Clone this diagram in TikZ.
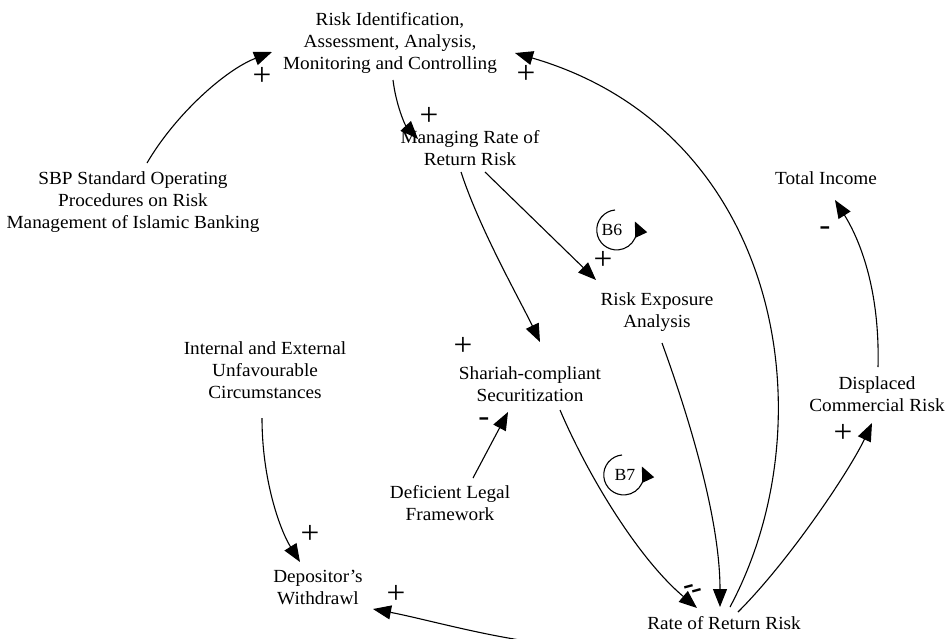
\documentclass[tikz,border=0pt]{standalone}
\usepackage{fontspec}
\setmainfont{Liberation Serif}[FakeStretch=1.04]
\usetikzlibrary{arrows.meta,calc}
\begin{document}
\begin{tikzpicture}[x=1pt,y=-1pt,
  lbl/.style={align=center, font=\fontsize{18.5}{22}\selectfont, inner sep=0pt},
  link/.style={line width=1.1pt, -{Triangle[length=18pt,width=14pt]}},
  sign/.style={font=\fontsize{32}{32}\selectfont, inner sep=0pt, text height=16.6pt, text depth=-1.6pt},
  minus/.style={font=\fontsize{32}{32}\selectfont, inner sep=0pt, text height=10pt, text depth=-4.4pt},
  loopname/.style={font=\fontsize{17}{17}\selectfont, inner sep=0pt},
  looparc/.style={line width=1.1pt, -{Triangle[length=15pt,width=13pt]}}]
\useasboundingbox (0,0) rectangle (950,638);

% variables
\node[lbl] (ri)   at (390,43)  {Risk Identification,\\Assessment, Analysis,\\Monitoring and Controlling};
\node[lbl] (mrr)  at (470,148) {Managing Rate of\\Return Risk};
\node[lbl] (sbp)  at (133,202) {SBP Standard Operating\\Procedures on Risk\\Management of Islamic Banking};
\node[lbl] (ti)   at (826,178) {Total Income};
\node[lbl] (rea)  at (657,312) {Risk Exposure\\Analysis};
\node[lbl] (iec)  at (265,370) {Internal and External\\Unfavourable\\Circumstances};
\node[lbl] (ssec) at (530,384) {Shariah-compliant\\Securitization};
\node[lbl] (dcr)  at (877,394) {Displaced\\Commercial Risk};
\node[lbl] (dlf)  at (450,503) {Deficient Legal\\Framework};
\node[lbl] (dw)   at (318,587) {Depositor's\\Withdrawl};
\node[lbl] (rorr) at (724,623) {Rate of Return Risk};

% causal links
\draw[link] ($(sbp)+(14,-39)$) .. controls (175,115) and (225,70) .. ($(ri)+(-118,9)$);
\draw[link] ($(ri)+(3,37)$) .. controls (396,105) and (405,125) .. ($(mrr)+(-52,-9)$);
\draw[link] ($(mrr)+(-9,24)$) .. controls (480,230) and (520,300) .. ($(ssec)+(10,-42)$);
\draw[link] ($(mrr)+(15,24)$) -- ($(rea)+(-61,-32)$);
\draw[link] ($(rea)+(5,31)$) .. controls (690,420) and (720,520) .. ($(rorr)+(-4,-16)$);
\draw[link] ($(ssec)+(30,26)$) .. controls (590,480) and (640,560) .. ($(rorr)+(-27,-15)$);
\draw[link] ($(rorr)+(6,-16)$) .. controls (830,420) and (780,130) .. ($(ri)+(125,10)$);
\draw[link] ($(rorr)+(14,-11)$) .. controls (790,560) and (850,470) .. ($(dcr)+(-5,29)$);
\draw[link] ($(dcr)+(1,-27)$) .. controls (880,290) and (860,240) .. ($(ti)+(9,22)$);
\draw[link] ($(iec)+(-3,48)$) .. controls (262,480) and (280,530) .. ($(dw)+(-18,-25)$);
\draw[link] ($(rorr)+(-204,17)$) .. controls (470,632) and (420,618) .. ($(dw)+(55,22)$);
\draw[link] ($(dlf)+(23,-25)$) -- ($(ssec)+(-22,28)$);

% polarities
\node[sign] (p1) at (262,77)  {+};
\node[sign] (p2) at (429,117) {+};
\node[sign] (p3) at (526,75)  {+};
\node[sign] (p4) at (603,261) {+};
\node[sign] (p5) at (463,347) {+};
\node[sign] (p6) at (843,434) {+};
\node[sign] (p7) at (310,535) {+};
\node[sign] (p8) at (396,595) {+};
\node[minus] (m1) at (825,230) {-};
\node[minus] (m2) at (484,421) {-};
\node[minus, rotate=15] (m3) at (693,588) {-\kern-4pt\raisebox{-6pt}{-}};

% balancing loops
\node[loopname] (b6) at (612,230) {B6};
\draw[looparc] ($(b6)+(3,-20)$) arc[start angle=265, end angle=-25, radius=20];
\node[loopname] (b7) at (625,475) {B7};
\draw[looparc] ($(b7)+(-3,-20)$) arc[start angle=265, end angle=-25, radius=20];
\end{tikzpicture}
\end{document}
